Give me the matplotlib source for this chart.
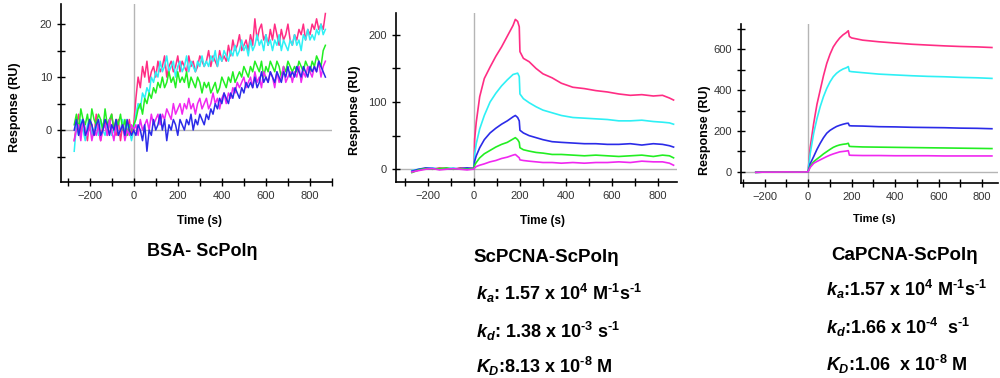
import numpy as np
import matplotlib
matplotlib.use('Agg')
import matplotlib.pyplot as plt
from matplotlib.ticker import MultipleLocator

plt.rcParams['font.family'] = ['Liberation Sans', 'DejaVu Sans']
plt.rcParams['mathtext.fontset'] = 'custom'
plt.rcParams['mathtext.rm'] = 'Liberation Sans:bold'
plt.rcParams['mathtext.it'] = 'Liberation Sans:bold:italic'
plt.rcParams['mathtext.bf'] = 'Liberation Sans:bold'

cores = {'rosa': '#ff2d84', 'ciano': '#2ef0f5', 'azul': '#2b2be8',
         'verde': '#22ee22', 'magenta': '#f028f0'}

# ---- painel 1: BSA (sinal ruidoso), pontos a cada 10 s (-270 .. 870)
t1 = list(range(-270, 871, 10))
bsa_rosa = [-2, 1, 3, -1, 2, 0, -2, 2, 1, -1,
            3, 0, -2, 1, 2, -1, 1, 3, 0, -1,
            2, -2, 1, 0, -1, 2, -1, 1, 6, 10,
            8, 12, 10, 13, 9, 11, 12, 10, 13, 11,
            12, 14, 10, 12, 13, 11, 12, 14, 11, 13,
            12, 11, 14, 12, 13, 11, 12, 14, 13, 12,
            13, 15, 12, 14, 13, 12, 15, 13, 14, 13,
            16, 14, 17, 15, 16, 18, 15, 16, 17, 15,
            18, 16, 21, 17, 19, 20, 17, 18, 16, 19,
            17, 20, 18, 16, 19, 17, 18, 20, 17, 16,
            18, 17, 19, 18, 20, 17, 19, 18, 20, 19,
            21, 19, 20, 19, 22]
bsa_ciano = [-4, 1, -1, 2, 0, -2, 1, 2, -1, 0,
             1, -1, 2, 0, -1, 1, 2, -1, 0, 1,
             -1, 0, 2, -1, 1, 0, -2, 0, 3, 5,
             4, 7, 6, 8, 7, 10, 9, 11, 10, 13,
             11, 12, 14, 11, 12, 13, 10, 12, 13, 11,
             12, 14, 11, 13, 12, 11, 13, 12, 14, 12,
             13, 12, 14, 13, 15, 12, 14, 13, 15, 14,
             13, 15, 14, 16, 14, 15, 17, 15, 16, 14,
             17, 15, 16, 18, 16, 17, 15, 18, 16, 17,
             15, 17, 16, 18, 15, 17, 16, 15, 17, 16,
             18, 16, 17, 15, 18, 17, 19, 17, 18, 17,
             19, 18, 20, 18, 19]
bsa_verde = [1, 3, 0, 4, 2, 1, 3, 0, 4, 2,
             1, 3, 2, 0, 4, 1, 2, 3, 0, 2,
             1, 3, 0, 2, -1, 1, 0, 1, 2, 4,
             5, 3, 6, 5, 7, 6, 8, 7, 9, 8,
             10, 8, 9, 11, 9, 10, 8, 11, 9, 10,
             9, 11, 8, 10, 9, 8, 10, 9, 7, 9,
             8, 9, 7, 8, 9, 7, 8, 10, 9, 8,
             10, 9, 11, 9, 10, 11, 10, 12, 11, 10,
             12, 11, 13, 12, 11, 13, 10, 12, 11, 13,
             12, 11, 13, 12, 10, 12, 11, 13, 12, 11,
             12, 11, 13, 12, 11, 13, 12, 11, 13, 12,
             14, 13, 12, 15, 16]
bsa_magenta = [-2, 0, 1, -2, 2, 0, -1, 1, -2, 0,
               -1, 1, -2, 0, 1, -1, 2, 0, -2, 1,
               -1, 0, 1, -2, 0, -1, 1, 0, 1, -1,
               2, 0, 1, 2, 0, 3, 1, 2, 3, 1,
               3, 2, 4, 3, 2, 5, 3, 4, 5, 3,
               5, 4, 6, 4, 5, 3, 5, 6, 4, 5,
               6, 4, 5, 7, 5, 6, 4, 6, 7, 5,
               7, 6, 8, 7, 9, 8, 9, 10, 8, 9,
               10, 8, 11, 9, 10, 8, 11, 10, 9, 11,
               10, 8, 11, 9, 10, 12, 9, 10, 11, 9,
               11, 10, 12, 9, 11, 10, 12, 11, 10, 12,
               11, 13, 10, 12, 13]
bsa_azul = [0, 2, -1, 1, 2, -1, 0, 2, 1, -1,
            1, 2, -1, 0, 2, 1, -1, 1, 0, 2,
            -1, 0, 1, -1, 2, 0, -1, 0, -1, 1,
            0, -2, 1, -4, 0, -1, 2, 0, 1, 3,
            0, 2, -2, 1, 0, 2, 1, -1, 2, 1,
            0, 2, 1, 3, 0, 2, 1, 3, 2, 1,
            3, 2, 4, 3, 5, 4, 6, 5, 7, 6,
            5, 7, 6, 8, 7, 6, 8, 7, 9, 8,
            9, 8, 10, 8, 9, 11, 9, 10, 9, 11,
            10, 9, 11, 10, 9, 11, 10, 12, 10, 11,
            10, 12, 11, 10, 12, 11, 10, 12, 11, 12,
            11, 13, 12, 11, 10]

# ---- painel 2: ScPCNA
t2 = [-270, -240, -210, -180, -150, -120, -90, -60, -30, -5,
      0, 3, 10, 25, 45, 70, 95, 120, 145, 170,
      180, 190, 197, 200, 215, 240, 270, 300, 340, 380,
      430, 480, 530, 580, 630, 680, 730, 780, 820, 850, 868]
sc_rosa = [-4, -1, 1, 0, 2, 1, 0, 2, 1, 2,
           3, 45, 70, 108, 135, 152, 168, 182, 198, 214,
           223, 220, 212, 175, 165, 160, 150, 142, 136, 128,
           122, 120, 117, 115, 112, 110, 111, 109, 110, 106, 103]
sc_ciano = [-2, 0, 1, 2, 0, 1, 2, 0, 1, 1,
            2, 22, 38, 60, 80, 100, 113, 124, 133, 141,
            142, 143, 138, 112, 105, 99, 93, 88, 84, 80,
            77, 76, 75, 74, 72, 72, 73, 71, 70, 69, 67]
sc_azul = [-3, 0, 2, 1, 0, 1, 0, 1, 2, 1,
           1, 12, 20, 32, 44, 54, 61, 67, 72, 78,
           80, 77, 72, 58, 54, 50, 47, 44, 41, 40,
           39, 38, 38, 37, 37, 38, 36, 38, 37, 35, 33]
sc_verde = [-5, -1, 1, 0, 1, 2, 0, 1, 0, 1,
            1, 6, 10, 17, 23, 28, 33, 37, 40, 45,
            47, 44, 40, 32, 29, 27, 25, 24, 22, 22,
            21, 20, 21, 20, 19, 20, 21, 19, 21, 20, 17]
sc_magenta = [-4, -2, 0, 1, -1, 0, 1, 0, -1, 0,
              0, 2, 4, 6, 8, 11, 13, 16, 18, 21,
              22, 19, 17, 14, 13, 12, 11, 10, 10, 9,
              10, 9, 10, 10, 11, 10, 12, 11, 11, 9, 6]

# ---- painel 3: CaPCNA
t3 = [-240, -200, -150, -100, -50, -10, 0, 10, 26, 41, 56,
      71, 86, 101, 116, 131, 146, 161, 176, 185, 190,
      200, 251, 326, 400, 477, 550, 627, 700, 777, 845]
ca_rosa = [-2, -1, -1, 0, -1, 0, 0, 120, 237, 330, 400,
           470, 530, 575, 611, 635, 655, 670, 681, 690, 662,
           655, 644, 636, 630, 624, 620, 616, 613, 611, 608]
ca_ciano = [-2, -1, -1, 0, -1, 0, 0, 90, 189, 260, 319,
            368, 408, 440, 465, 482, 494, 503, 509, 515, 492,
            490, 485, 478, 474, 470, 467, 465, 462, 460, 457]
ca_azul = [-2, -1, -1, 0, -1, 0, 0, 40, 75, 110, 140,
           167, 189, 203, 213, 222, 228, 233, 237, 238, 226,
           225, 224, 221, 220, 218, 217, 216, 214, 213, 211]
ca_verde = [-2, -1, -1, 0, -1, 0, 0, 28, 50, 63, 75,
            88, 99, 110, 120, 127, 132, 135, 137, 140, 125,
            124, 122, 121, 120, 119, 118, 117, 116, 115, 114]
ca_magenta = [-2, -1, -1, 0, -1, 0, 0, 22, 42, 51, 59,
              67, 75, 82, 88, 93, 98, 100, 102, 104, 82,
              81, 80, 80, 79, 79, 79, 78, 78, 78, 78]

# posicao, limites, ticks, posicao dos rotulos (Time x/y, Response x/y)
paineis = [
    (t1, [('rosa', bsa_rosa), ('ciano', bsa_ciano), ('verde', bsa_verde),
          ('magenta', bsa_magenta), ('azul', bsa_azul)],
     [0.061, 0.5185, 0.271, 0.471], (-330, 900), (-9.8, 23.8), 10, 5,
     (0.51, -0.185), (-0.148, 0.42), 1.1, 8.5),
    (t2, [('rosa', sc_rosa), ('ciano', sc_ciano), ('azul', sc_azul),
          ('verde', sc_verde), ('magenta', sc_magenta)],
     [0.396, 0.5185, 0.281, 0.448], (-339, 883), (-19, 233), 100, 50,
     (0.52, -0.195), (-0.125, 0.426), 1.2, 8.5),
    (t3, [('rosa', ca_rosa), ('ciano', ca_ciano), ('azul', ca_azul),
          ('verde', ca_verde), ('magenta', ca_magenta)],
     [0.741, 0.516, 0.257, 0.42], (-308, 873), (-54, 722), 200, 100,
     (0.518, -0.198), (-0.117, 0.33), 1.2, 8),
]

fig = plt.figure(figsize=(10, 3.78), dpi=100)

for t, series, pos, xl, yl, maj, mnr, xlab, ylab, lw, fs in paineis:
    ax = fig.add_axes(pos)
    ax.axvline(0, color='#b5b5b5', lw=1, zorder=1)
    ax.axhline(0, color='#b5b5b5', lw=1, zorder=1)
    for nome, y in series:
        ax.plot(t, y, color=cores[nome], lw=lw, zorder=2)
    ax.set_xlim(xl)
    ax.set_ylim(yl)
    ax.spines['top'].set_visible(False)
    ax.spines['right'].set_visible(False)
    ax.spines['left'].set_linewidth(1.2)
    ax.spines['bottom'].set_linewidth(1.2)
    ax.xaxis.set_major_locator(MultipleLocator(200))
    ax.xaxis.set_minor_locator(MultipleLocator(100))
    ax.yaxis.set_major_locator(MultipleLocator(maj))
    ax.yaxis.set_minor_locator(MultipleLocator(mnr))
    ax.tick_params(which='both', direction='inout', length=6, width=1,
                   labelsize=8, labelcolor='#333333')
    ax.set_xticks([-200, 0, 200, 400, 600, 800])
    ax.set_xlabel('Time (s)', fontsize=fs, fontweight='bold')
    ax.xaxis.set_label_coords(*xlab)
    ax.set_ylabel('Response (RU)', fontsize=9, fontweight='bold')
    ax.yaxis.set_label_coords(*ylab)

# titulos e constantes cineticas
fig.text(0.202, 1 - 252 / 378, 'BSA- ScPolη', ha='center', va='center', fontsize=13, fontweight='bold')
fig.text(0.546, 1 - 257 / 378, 'ScPCNA-ScPolη', ha='center', va='center', fontsize=13.5, fontweight='bold')
fig.text(0.905, 1 - 255 / 378, 'CaPCNA-ScPolη', ha='center', va='center', fontsize=13.5, fontweight='bold')

sc_txt = [r'$k_a$: 1.57 x 10$^{4}$ M$^{\text{-}1}$s$^{\text{-}1}$',
          r'$k_d$: 1.38 x 10$^{\text{-}3}$ s$^{\text{-}1}$',
          r'$K_D$:8.13 x 10$^{\text{-}8}$ M']
ca_txt = [r'$k_a$:1.57 x 10$^{4}$ M$^{\text{-}1}$s$^{\text{-}1}$',
          r'$k_d$:1.66 x 10$^{\text{-}4}$  s$^{\text{-}1}$',
          r'$K_D$:1.06  x 10$^{\text{-}8}$ M']
sc_y = [293, 331, 366]
ca_y = [289, 327, 364]
for a, b, ya, yb in zip(sc_txt, ca_txt, sc_y, ca_y):
    fig.text(0.476, 1 - ya / 378, a, ha='left', va='center', fontsize=13, fontweight='bold')
    fig.text(0.826, 1 - yb / 378, b, ha='left', va='center', fontsize=13, fontweight='bold')

fig.savefig('out.png', dpi=100)
